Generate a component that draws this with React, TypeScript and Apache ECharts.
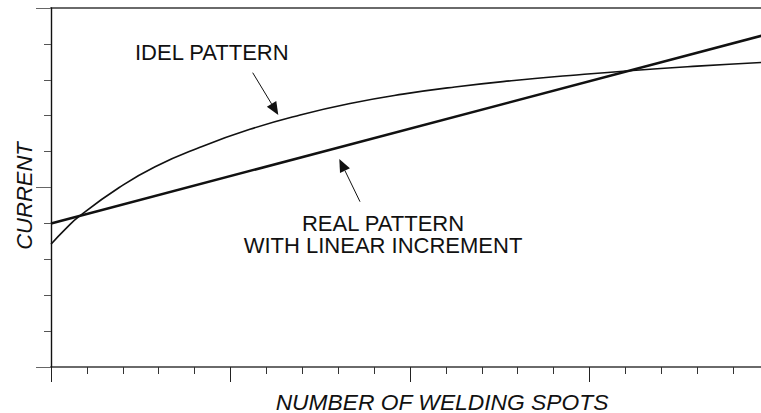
import React, { useEffect, useRef } from "react";
import * as echarts from "echarts";

// Ideal pattern (curve)
const idealX = [0, 0.4, 0.8, 1.9, 2.9, 4.15, 5.54, 6.94, 8.33, 9.8, 11.25, 12.9, 14.46, 16.2, 18.0, 19.78, 20];
const idealY = [3.42, 3.84, 4.21, 5.0, 5.58, 6.12, 6.62, 7.02, 7.34, 7.6, 7.8, 7.98, 8.12, 8.26, 8.38, 8.48, 8.49];

// Real pattern (linear increment)
const realX = [0, 20];
const realY = [4.0, 9.28];

// Axis ranges
const xRange = [0, 20];
const yRange = [0, 10];

const FONT = '"Liberation Sans", Arial, Helvetica, sans-serif';

export default function App() {
  const ref = useRef<HTMLDivElement>(null);

  useEffect(() => {
    if (!ref.current) return;
    const chart = echarts.init(ref.current, null, { renderer: "svg" });

    const arrow = (x1: number, y1: number, tx: number, ty: number) => {
      const dx = tx - x1;
      const dy = ty - y1;
      const len = Math.sqrt(dx * dx + dy * dy);
      const ux = dx / len;
      const uy = dy / len;
      const hl = 13;
      const hw = 5.5;
      const bx = tx - hl * ux;
      const by = ty - hl * uy;
      const px = -uy * hw;
      const py = ux * hw;
      return [
        {
          type: "line",
          shape: { x1, y1, x2: bx, y2: by },
          style: { stroke: "#111", lineWidth: 1 },
          silent: true,
        },
        {
          type: "polygon",
          shape: {
            points: [
              [tx, ty],
              [bx + px, by + py],
              [bx - px, by - py],
            ],
          },
          style: { fill: "#111" },
          silent: true,
        },
      ];
    };

    const text = (
      t: string,
      x: number,
      y: number,
      align: string,
      size = 22,
      italic = false,
      rotation = 0,
      lineHeight?: number
    ) => ({
      type: "text",
      x,
      y,
      rotation,
      style: {
        text: t,
        fill: "#111",
        font: `${italic ? "italic " : ""}${size}px ${FONT}`,
        align,
        verticalAlign: "middle",
        ...(lineHeight ? { lineHeight } : {}),
      },
      silent: true,
    });

    chart.setOption({
      animation: false,
      grid: { left: 51, top: 8, width: 718, height: 359, outerBoundsMode: "none", containLabel: false },
      xAxis: [
        {
          type: "value",
          min: xRange[0],
          max: xRange[1],
          interval: 5,
          position: "bottom",
          axisLine: { show: true, lineStyle: { color: "#6a6a6a", width: 2 } },
          axisTick: { show: true, length: 15, lineStyle: { color: "#222", width: 1 } },
          minorTick: { show: true, splitNumber: 5, length: 7, lineStyle: { color: "#333", width: 1 } },
          axisLabel: { show: false },
          splitLine: { show: false },
        },
        {
          type: "value",
          min: xRange[0],
          max: xRange[1],
          position: "top",
          axisLine: { show: true, lineStyle: { color: "#6a6a6a", width: 2 } },
          axisTick: { show: false },
          axisLabel: { show: false },
          splitLine: { show: false },
        },
      ],
      yAxis: [
        {
          type: "value",
          min: yRange[0],
          max: yRange[1],
          interval: 5,
          position: "left",
          axisLine: { show: true, lineStyle: { color: "#111", width: 1.4 } },
          axisTick: { show: true, length: 15, lineStyle: { color: "#666", width: 1 } },
          minorTick: { show: true, splitNumber: 5, length: 7, lineStyle: { color: "#555", width: 1 } },
          axisLabel: { show: false },
          splitLine: { show: false },
          z: 5,
        },
      ],
      series: [
        {
          type: "line",
          data: idealX.map((x, i) => [x, idealY[i]]),
          smooth: 0.5,
          symbol: "none",
          lineStyle: { color: "#111", width: 1.6 },
          clip: false,
        },
        {
          type: "line",
          data: realX.map((x, i) => [x, realY[i]]),
          symbol: "none",
          lineStyle: { color: "#111", width: 2.6 },
          clip: false,
        },
      ],
      graphic: [
        text("IDEL PATTERN", 135, 52, "left"),
        text("REAL PATTERN\nWITH LINEAR INCREMENT", 383, 234.5, "center", 22, false, 0, 22.6),
        text("NUMBER OF WELDING SPOTS", 442, 401.5, "center", 22.8, true),
        text("CURRENT", 24, 196, "center", 22, true, Math.PI / 2),
        ...arrow(252.7, 72.7, 278.3, 115),
        ...arrow(360, 201.7, 339.3, 159),
      ],
    });

    return () => chart.dispose();
  }, []);

  return <div ref={ref} style={{ width: 761, height: 413, position: "absolute", left: 0, top: 0 }} />;
}
